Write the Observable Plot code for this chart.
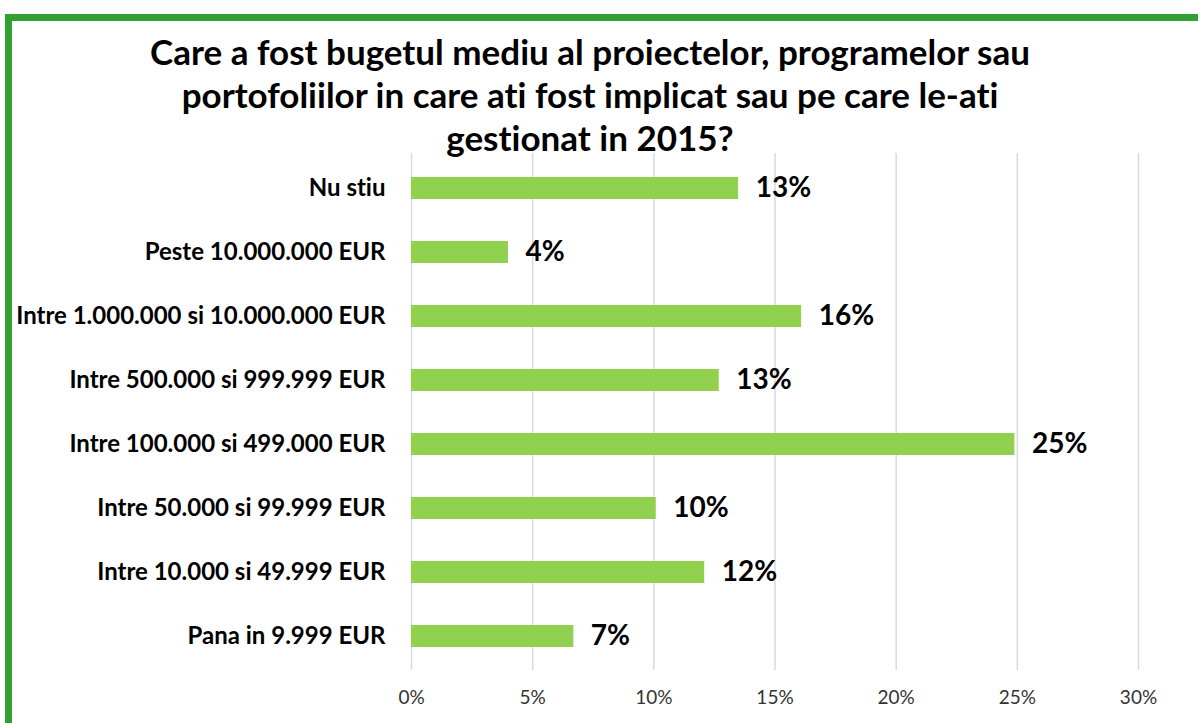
<!DOCTYPE html>
<html><head><meta charset="utf-8">
<script src="https://cdn.jsdelivr.net/npm/d3@7"></script>
<script src="https://cdn.jsdelivr.net/npm/@observablehq/plot@0.6"></script>
<style>
html,body{margin:0;padding:0;background:#fff;overflow:hidden;width:1198px;height:723px;}
#wrap{position:relative;width:1198px;height:723px;overflow:hidden;font-family:Lato,sans-serif;font-variant-ligatures:none;}
#frame{position:absolute;left:5px;top:14px;width:1300px;height:800px;border:7px solid #30a030;box-sizing:border-box;}
#title{position:absolute;left:0;top:30px;width:1180px;text-align:center;font-weight:bold;font-size:35px;line-height:43px;color:#000;font-variant-ligatures:none;}
#chart{position:absolute;left:0;top:0;}
#chart svg text{font-variant-ligatures:none;}
</style>
</head><body>
<div id="wrap">
  <div id="frame"></div>
  <div id="chart"></div>
  <div id="title">Care a fost bugetul mediu al proiectelor, programelor sau<br>portofoliilor in care ati fost implicat sau pe care le-ati<br>gestionat in 2015?</div>
</div>
<script>
const categories = ["Nu stiu","Peste 10.000.000 EUR","Intre 1.000.000 si 10.000.000 EUR","Intre 500.000 si 999.999 EUR","Intre 100.000 si 499.000 EUR","Intre 50.000 si 99.999 EUR","Intre 10.000 si 49.999 EUR","Pana in 9.999 EUR"];
const values = [13.5, 4.0, 16.1, 12.7, 24.9, 10.1, 12.1, 6.7];
const valueLabels = ["13%","4%","16%","13%","25%","10%","12%","7%"];
const xTicks = [0, 5, 10, 15, 20, 25, 30];

const data = categories.map((c, i) => ({cat: c, value: values[i], label: valueLabels[i]}));

const chart = Plot.plot({
  width: 1198,
  height: 723,
  marginTop: 153,
  marginBottom: 53,
  marginLeft: 411,
  marginRight: 60,
  style: {fontFamily: "Lato, sans-serif", color: "#000", background: "transparent"},
  x: {domain: [0, 30], label: null},
  y: {domain: categories, paddingInner: 0.66, paddingOuter: 0.33, label: null},
  marks: [
    Plot.gridX(xTicks, {stroke: "#d9d9d9", strokeOpacity: 1, strokeWidth: 1.5}),
    Plot.barX(data, {x: "value", y: "cat", fill: "#92d050"}),
    Plot.text(data, {x: "value", y: "cat", text: "label", textAnchor: "start", dx: 17, fontSize: 28, fontWeight: "bold", fill: "#000"}),
    Plot.axisY({tickSize: 0, tickPadding: 26, fontSize: 24, fontWeight: "bold", fill: "#000", label: null}),
    Plot.axisX({ticks: xTicks, tickSize: 0, tickPadding: 20, fontSize: 19, fill: "#333", tickFormat: d => d + "%", label: null})
  ]
});
document.getElementById("chart").appendChild(chart);
</script>
</body></html>
